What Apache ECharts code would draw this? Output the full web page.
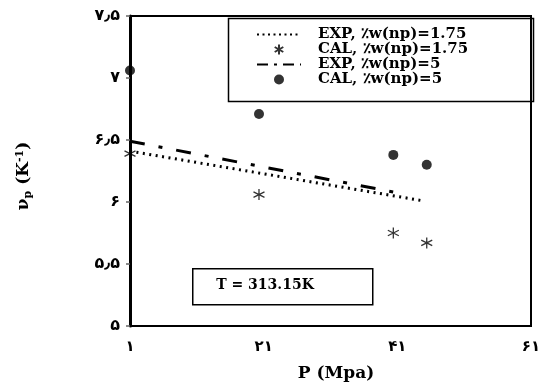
<!DOCTYPE html>
<html>
<head>
<meta charset="utf-8">
<script src="https://cdn.jsdelivr.net/npm/echarts@6/dist/echarts.min.js"></script>
<style>
    html, body { margin: 0; padding: 0; background: #fff; }
    #chart { width: 547px; height: 385px; }
</style>
</head>
<body>
<div id="chart"></div>
<script>
// values
const seriesNames = ['EXP, ٪w(np)=1.75', 'CAL, ٪w(np)=1.75', 'EXP, ٪w(np)=5', 'CAL, ٪w(np)=5']
const calPressure = [1, 20.3, 40.4, 45.4]
const calLow = [6.39, 6.06, 5.75, 5.67]
const calHigh = [7.06, 6.71, 6.38, 6.30]
const expLowPressure = [1, 44.8]
const expLow = [6.41, 6.01]
const expHighPressure = [1, 42.4]
const expHigh = [6.49, 6.06]
const xTicks = [1, 21, 41, 61]
const yTicks = [5, 5.5, 6, 6.5, 7, 7.5]

const faDigits = '۰۱۲۳۴۵۶۷۸۹'
function toFa(v) {
    return String(v).replace(/\d/g, (d) => faDigits[d]).replace('.', '٫')
}
function pairs(xs, ys) {
    return xs.map((x, i) => [x, ys[i]])
}

const serif = "'DejaVu Serif', 'Liberation Serif', serif"
const asterisk = 'path://M5 0L5 10M0.7 2.5L9.3 7.5M0.7 7.5L9.3 2.5'
const hidden = 'rgba(0,0,0,0)'

let chart = echarts.init(document.getElementById('chart'))
let options = {
    animation: false,
    legend: {
        orient: 'vertical',
        left: 251,
        top: 22,
        itemWidth: 44,
        itemHeight: 10,
        itemGap: 0,
        data: [
            { name: seriesNames[0], lineStyle: { type: [2, 3.5] } },
            { name: seriesNames[1] },
            { name: seriesNames[2], lineStyle: { type: [11, 6, 3, 6] } },
            { name: seriesNames[3] },
        ],
        textStyle: {
            fontFamily: serif,
            fontWeight: 'bold',
            fontSize: 15,
            lineHeight: 14,
            color: '#000',
            padding: [0, 0, 0, 12],
        },
    },
    grid: {
        left: 130,
        right: 16,
        top: 16,
        bottom: 59,
        show: true,
        borderColor: '#000',
        borderWidth: 2,
    },
    xAxis: {
        type: 'value',
        min: xTicks[0],
        max: xTicks[xTicks.length - 1],
        interval: 20,
        splitLine: { show: false },
        axisTick: { show: false },
        axisLine: { show: true, lineStyle: { color: '#000', width: 2 } },
        axisLabel: {
            margin: 14,
            color: '#000',
            fontSize: 15,
            fontWeight: 'bold',
            fontFamily: "'DejaVu Sans', sans-serif",
            formatter: (v) => toFa(v),
        },
    },
    yAxis: {
        type: 'value',
        min: yTicks[0],
        max: yTicks[yTicks.length - 1],
        interval: 0.5,
        splitLine: { show: false },
        axisTick: { show: true, length: 4, lineStyle: { color: '#666', width: 1.5 } },
        axisLine: { show: true, lineStyle: { color: '#000', width: 3 } },
        axisLabel: {
            margin: 10,
            color: '#000',
            fontSize: 16,
            fontWeight: 'bold',
            fontFamily: "'DejaVu Sans', sans-serif",
            formatter: (v) => toFa(v),
        },
    },
    series: [
        {
            name: seriesNames[0],
            type: 'line',
            symbol: 'none',
            lineStyle: { color: '#000', width: 3, type: [2, 4.5] },
            itemStyle: { color: hidden, borderColor: hidden },
            data: pairs(expLowPressure, expLow),
        },
        {
            name: seriesNames[1],
            type: 'scatter',
            symbol: asterisk,
            symbolSize: 11,
            itemStyle: { color: 'none', borderColor: '#000', borderWidth: 1.3 },
            data: pairs(calPressure, calLow),
        },
        {
            name: seriesNames[2],
            type: 'line',
            symbol: 'none',
            lineStyle: { color: '#000', width: 3, type: [15, 14, 4, 14] },
            itemStyle: { color: hidden, borderColor: hidden },
            data: pairs(expHighPressure, expHigh),
        },
        {
            name: seriesNames[3],
            type: 'scatter',
            symbol: 'circle',
            symbolSize: 10,
            itemStyle: { color: '#000' },
            data: pairs(calPressure, calHigh),
        },
    ],
    graphic: [
        {
            type: 'rect',
            left: 226,
            top: 16,
            shape: { width: 305, height: 83 },
            style: { fill: 'none', stroke: '#000', lineWidth: 1.5 },
            z: 10,
        },
        {
            type: 'rect',
            left: 192,
            top: 268,
            shape: { width: 180, height: 36 },
            style: { fill: '#fff', stroke: '#000', lineWidth: 1.5 },
            z: 10,
        },
        {
            type: 'text',
            x: 265,
            y: 285,
            style: {
                text: 'T = 313.15K',
                align: 'center',
                verticalAlign: 'middle',
                font: "bold 14px 'DejaVu Serif', serif",
                fill: '#000',
            },
            z: 11,
        },
        {
            type: 'text',
            x: 336,
            y: 374,
            style: {
                text: 'P (Mpa)',
                align: 'center',
                verticalAlign: 'middle',
                font: "bold 17px 'DejaVu Serif', serif",
                fill: '#000',
            },
        },
        {
            type: 'text',
            x: 24,
            y: 176,
            rotation: Math.PI / 2,
            style: {
                text: 'ν{sub|p} (K{sup|-1})',
                align: 'center',
                verticalAlign: 'middle',
                font: "bold 17px 'DejaVu Serif', serif",
                fill: '#000',
                rich: {
                    sub: { fontFamily: serif, fontWeight: 'bold', fontSize: 11, padding: [8, 0, 0, 0] },
                    sup: { fontFamily: serif, fontWeight: 'bold', fontSize: 11, padding: [0, 0, 8, 0] },
                },
            },
        },
    ],
}
chart.setOption(options)
</script>
</body>
</html>
